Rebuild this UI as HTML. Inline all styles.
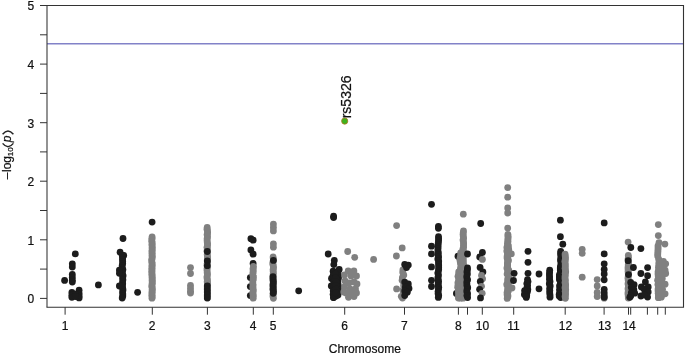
<!DOCTYPE html>
<html><head><meta charset="utf-8"><style>
html,body{margin:0;padding:0;background:#fff}
svg{display:block;will-change:transform}
text{font-family:"Liberation Sans",sans-serif;font-size:12px;fill:#111;stroke:#111;stroke-width:0.22px}
.ax line{stroke:#333;stroke-width:1}
</style></head><body>
<svg width="685" height="355" viewBox="0 0 685 355">
<rect width="685" height="355" fill="#fff"/>
<line x1="47" y1="43.85" x2="683" y2="43.85" stroke="#8282c8" stroke-width="1.5"/>
<g><circle cx="75.3" cy="253.9" r="3.4" fill="#1c1c1c"/><circle cx="72.3" cy="263.8" r="3.4" fill="#1c1c1c"/><circle cx="72.3" cy="267.0" r="3.4" fill="#1c1c1c"/><circle cx="72.3" cy="274.4" r="3.4" fill="#1c1c1c"/><circle cx="72.3" cy="277.5" r="3.4" fill="#1c1c1c"/><circle cx="64.6" cy="280.4" r="3.4" fill="#1c1c1c"/><circle cx="72.3" cy="280.2" r="3.4" fill="#1c1c1c"/><circle cx="72.3" cy="282.0" r="3.4" fill="#1c1c1c"/><circle cx="71.9" cy="292.5" r="3.4" fill="#1c1c1c"/><circle cx="71.9" cy="295.2" r="3.4" fill="#1c1c1c"/><circle cx="71.9" cy="297.3" r="3.4" fill="#1c1c1c"/><circle cx="79.1" cy="290.2" r="3.4" fill="#1c1c1c"/><circle cx="79.1" cy="293.5" r="3.4" fill="#1c1c1c"/><circle cx="79.1" cy="296.0" r="3.4" fill="#1c1c1c"/><circle cx="79.1" cy="297.9" r="3.4" fill="#1c1c1c"/><circle cx="75.5" cy="294.2" r="3.4" fill="#1c1c1c"/><circle cx="75.5" cy="296.5" r="3.4" fill="#1c1c1c"/><circle cx="98.4" cy="284.9" r="3.4" fill="#1c1c1c"/><circle cx="123.0" cy="238.5" r="3.4" fill="#1c1c1c"/><circle cx="120.1" cy="252.2" r="3.4" fill="#1c1c1c"/><circle cx="123.7" cy="255.4" r="3.4" fill="#1c1c1c"/><circle cx="122.3" cy="255.4" r="3.4" fill="#1c1c1c"/><circle cx="122.6" cy="257.4" r="3.4" fill="#1c1c1c"/><circle cx="122.5" cy="259.5" r="3.4" fill="#1c1c1c"/><circle cx="122.7" cy="261.5" r="3.4" fill="#1c1c1c"/><circle cx="122.7" cy="263.5" r="3.4" fill="#1c1c1c"/><circle cx="122.2" cy="265.5" r="3.4" fill="#1c1c1c"/><circle cx="122.1" cy="267.6" r="3.4" fill="#1c1c1c"/><circle cx="122.9" cy="269.6" r="3.4" fill="#1c1c1c"/><circle cx="122.4" cy="271.6" r="3.4" fill="#1c1c1c"/><circle cx="122.3" cy="273.7" r="3.4" fill="#1c1c1c"/><circle cx="123.1" cy="275.7" r="3.4" fill="#1c1c1c"/><circle cx="122.6" cy="277.7" r="3.4" fill="#1c1c1c"/><circle cx="122.9" cy="279.7" r="3.4" fill="#1c1c1c"/><circle cx="122.6" cy="281.8" r="3.4" fill="#1c1c1c"/><circle cx="122.7" cy="283.8" r="3.4" fill="#1c1c1c"/><circle cx="122.3" cy="285.8" r="3.4" fill="#1c1c1c"/><circle cx="122.7" cy="287.9" r="3.4" fill="#1c1c1c"/><circle cx="123.0" cy="289.9" r="3.4" fill="#1c1c1c"/><circle cx="122.6" cy="291.9" r="3.4" fill="#1c1c1c"/><circle cx="122.8" cy="293.9" r="3.4" fill="#1c1c1c"/><circle cx="122.8" cy="296.0" r="3.4" fill="#1c1c1c"/><circle cx="122.2" cy="298.0" r="3.4" fill="#1c1c1c"/><circle cx="119.4" cy="270.1" r="3.4" fill="#1c1c1c"/><circle cx="119.4" cy="273.3" r="3.4" fill="#1c1c1c"/><circle cx="119.4" cy="286.0" r="3.4" fill="#1c1c1c"/><circle cx="137.6" cy="292.3" r="3.4" fill="#1c1c1c"/><circle cx="152.1" cy="236.8" r="3.4" fill="#808080"/><circle cx="152.0" cy="238.3" r="3.4" fill="#808080"/><circle cx="151.9" cy="239.8" r="3.4" fill="#808080"/><circle cx="151.8" cy="241.3" r="3.4" fill="#808080"/><circle cx="152.2" cy="242.8" r="3.4" fill="#808080"/><circle cx="152.0" cy="244.3" r="3.4" fill="#808080"/><circle cx="152.1" cy="245.8" r="3.4" fill="#808080"/><circle cx="152.2" cy="247.3" r="3.4" fill="#808080"/><circle cx="152.1" cy="248.8" r="3.4" fill="#808080"/><circle cx="152.2" cy="250.3" r="3.4" fill="#808080"/><circle cx="151.9" cy="251.8" r="3.4" fill="#808080"/><circle cx="152.2" cy="253.3" r="3.4" fill="#808080"/><circle cx="152.0" cy="254.8" r="3.4" fill="#808080"/><circle cx="152.2" cy="256.3" r="3.4" fill="#808080"/><circle cx="152.2" cy="257.8" r="3.4" fill="#808080"/><circle cx="151.8" cy="259.3" r="3.4" fill="#808080"/><circle cx="151.8" cy="260.8" r="3.4" fill="#808080"/><circle cx="151.9" cy="262.3" r="3.4" fill="#808080"/><circle cx="152.2" cy="263.8" r="3.4" fill="#808080"/><circle cx="152.0" cy="265.3" r="3.4" fill="#808080"/><circle cx="152.1" cy="266.8" r="3.4" fill="#808080"/><circle cx="151.9" cy="268.2" r="3.4" fill="#808080"/><circle cx="152.0" cy="269.7" r="3.4" fill="#808080"/><circle cx="151.9" cy="271.2" r="3.4" fill="#808080"/><circle cx="151.9" cy="272.7" r="3.4" fill="#808080"/><circle cx="152.0" cy="274.2" r="3.4" fill="#808080"/><circle cx="152.0" cy="275.7" r="3.4" fill="#808080"/><circle cx="152.2" cy="277.2" r="3.4" fill="#808080"/><circle cx="152.1" cy="278.7" r="3.4" fill="#808080"/><circle cx="152.2" cy="280.2" r="3.4" fill="#808080"/><circle cx="152.2" cy="281.7" r="3.4" fill="#808080"/><circle cx="152.2" cy="283.2" r="3.4" fill="#808080"/><circle cx="152.1" cy="284.7" r="3.4" fill="#808080"/><circle cx="151.8" cy="286.2" r="3.4" fill="#808080"/><circle cx="152.2" cy="287.7" r="3.4" fill="#808080"/><circle cx="152.2" cy="289.2" r="3.4" fill="#808080"/><circle cx="152.2" cy="290.7" r="3.4" fill="#808080"/><circle cx="152.0" cy="292.2" r="3.4" fill="#808080"/><circle cx="152.1" cy="293.7" r="3.4" fill="#808080"/><circle cx="151.9" cy="295.2" r="3.4" fill="#808080"/><circle cx="152.2" cy="296.7" r="3.4" fill="#808080"/><circle cx="152.0" cy="298.2" r="3.4" fill="#808080"/><circle cx="152.1" cy="222.1" r="3.4" fill="#1c1c1c"/><circle cx="190.5" cy="267.6" r="3.4" fill="#808080"/><circle cx="190.5" cy="273.5" r="3.4" fill="#808080"/><circle cx="190.5" cy="285.4" r="3.4" fill="#808080"/><circle cx="190.5" cy="288.5" r="3.4" fill="#808080"/><circle cx="190.5" cy="291.3" r="3.4" fill="#808080"/><circle cx="190.5" cy="293.0" r="3.4" fill="#808080"/><circle cx="207.2" cy="227.4" r="3.4" fill="#808080"/><circle cx="207.0" cy="229.2" r="3.4" fill="#808080"/><circle cx="207.5" cy="231.0" r="3.4" fill="#808080"/><circle cx="207.6" cy="232.8" r="3.4" fill="#808080"/><circle cx="207.1" cy="234.6" r="3.4" fill="#808080"/><circle cx="207.5" cy="236.5" r="3.4" fill="#808080"/><circle cx="207.2" cy="238.3" r="3.4" fill="#808080"/><circle cx="207.1" cy="240.1" r="3.4" fill="#808080"/><circle cx="207.2" cy="241.9" r="3.4" fill="#808080"/><circle cx="207.5" cy="243.7" r="3.4" fill="#808080"/><circle cx="207.5" cy="245.5" r="3.4" fill="#808080"/><circle cx="207.0" cy="247.3" r="3.4" fill="#808080"/><circle cx="207.4" cy="249.1" r="3.4" fill="#808080"/><circle cx="207.0" cy="250.9" r="3.4" fill="#808080"/><circle cx="207.4" cy="252.7" r="3.4" fill="#808080"/><circle cx="207.2" cy="254.6" r="3.4" fill="#808080"/><circle cx="207.5" cy="256.4" r="3.4" fill="#808080"/><circle cx="207.6" cy="258.2" r="3.4" fill="#808080"/><circle cx="207.3" cy="260.0" r="3.4" fill="#808080"/><circle cx="207.6" cy="261.8" r="3.4" fill="#808080"/><circle cx="207.2" cy="263.6" r="3.4" fill="#808080"/><circle cx="207.0" cy="265.4" r="3.4" fill="#808080"/><circle cx="207.4" cy="267.2" r="3.4" fill="#808080"/><circle cx="207.0" cy="269.0" r="3.4" fill="#808080"/><circle cx="207.1" cy="270.8" r="3.4" fill="#808080"/><circle cx="207.2" cy="272.7" r="3.4" fill="#808080"/><circle cx="207.4" cy="274.5" r="3.4" fill="#808080"/><circle cx="207.1" cy="276.3" r="3.4" fill="#808080"/><circle cx="207.0" cy="278.1" r="3.4" fill="#808080"/><circle cx="207.5" cy="279.9" r="3.4" fill="#808080"/><circle cx="207.2" cy="281.7" r="3.4" fill="#808080"/><circle cx="207.6" cy="283.5" r="3.4" fill="#808080"/><circle cx="207.5" cy="285.3" r="3.4" fill="#808080"/><circle cx="207.2" cy="287.1" r="3.4" fill="#808080"/><circle cx="207.3" cy="288.9" r="3.4" fill="#808080"/><circle cx="207.3" cy="290.8" r="3.4" fill="#808080"/><circle cx="207.4" cy="292.6" r="3.4" fill="#808080"/><circle cx="207.4" cy="294.4" r="3.4" fill="#808080"/><circle cx="207.3" cy="296.2" r="3.4" fill="#808080"/><circle cx="207.4" cy="298.0" r="3.4" fill="#808080"/><circle cx="207.3" cy="251.5" r="3.4" fill="#1c1c1c"/><circle cx="207.3" cy="260.9" r="3.4" fill="#1c1c1c"/><circle cx="207.3" cy="265.7" r="3.4" fill="#1c1c1c"/><circle cx="207.3" cy="285.8" r="3.4" fill="#1c1c1c"/><circle cx="207.3" cy="289.0" r="3.4" fill="#1c1c1c"/><circle cx="207.3" cy="292.0" r="3.4" fill="#1c1c1c"/><circle cx="207.3" cy="295.0" r="3.4" fill="#1c1c1c"/><circle cx="207.3" cy="297.9" r="3.4" fill="#1c1c1c"/><circle cx="250.3" cy="277.6" r="3.4" fill="#1c1c1c"/><circle cx="250.3" cy="286.6" r="3.4" fill="#1c1c1c"/><circle cx="250.3" cy="295.6" r="3.4" fill="#1c1c1c"/><circle cx="250.9" cy="238.7" r="3.4" fill="#1c1c1c"/><circle cx="253.1" cy="240.2" r="3.4" fill="#1c1c1c"/><circle cx="250.9" cy="250.0" r="3.4" fill="#1c1c1c"/><circle cx="253.1" cy="254.2" r="3.4" fill="#1c1c1c"/><circle cx="253.1" cy="263.5" r="3.4" fill="#1c1c1c"/><circle cx="253.4" cy="266.5" r="3.4" fill="#808080"/><circle cx="253.1" cy="268.3" r="3.4" fill="#808080"/><circle cx="253.1" cy="270.0" r="3.4" fill="#808080"/><circle cx="253.2" cy="271.8" r="3.4" fill="#808080"/><circle cx="252.9" cy="273.5" r="3.4" fill="#808080"/><circle cx="253.0" cy="275.3" r="3.4" fill="#808080"/><circle cx="253.4" cy="277.1" r="3.4" fill="#808080"/><circle cx="253.1" cy="278.8" r="3.4" fill="#808080"/><circle cx="253.1" cy="280.6" r="3.4" fill="#808080"/><circle cx="252.8" cy="282.4" r="3.4" fill="#808080"/><circle cx="253.0" cy="284.1" r="3.4" fill="#808080"/><circle cx="253.1" cy="285.9" r="3.4" fill="#808080"/><circle cx="252.8" cy="287.6" r="3.4" fill="#808080"/><circle cx="253.2" cy="289.4" r="3.4" fill="#808080"/><circle cx="253.2" cy="291.2" r="3.4" fill="#808080"/><circle cx="252.8" cy="292.9" r="3.4" fill="#808080"/><circle cx="253.2" cy="294.7" r="3.4" fill="#808080"/><circle cx="253.1" cy="296.4" r="3.4" fill="#808080"/><circle cx="253.2" cy="298.2" r="3.4" fill="#808080"/><circle cx="273.4" cy="224.1" r="3.4" fill="#808080"/><circle cx="273.4" cy="227.5" r="3.4" fill="#808080"/><circle cx="273.4" cy="230.9" r="3.4" fill="#808080"/><circle cx="273.4" cy="243.8" r="3.4" fill="#808080"/><circle cx="273.4" cy="247.2" r="3.4" fill="#808080"/><circle cx="273.1" cy="257.0" r="3.4" fill="#808080"/><circle cx="273.3" cy="258.8" r="3.4" fill="#808080"/><circle cx="273.3" cy="260.6" r="3.4" fill="#808080"/><circle cx="272.9" cy="262.4" r="3.4" fill="#808080"/><circle cx="272.9" cy="264.2" r="3.4" fill="#808080"/><circle cx="273.3" cy="266.0" r="3.4" fill="#808080"/><circle cx="273.5" cy="267.8" r="3.4" fill="#808080"/><circle cx="273.1" cy="269.6" r="3.4" fill="#808080"/><circle cx="273.2" cy="271.4" r="3.4" fill="#808080"/><circle cx="273.3" cy="273.2" r="3.4" fill="#808080"/><circle cx="273.1" cy="275.0" r="3.4" fill="#808080"/><circle cx="273.1" cy="276.8" r="3.4" fill="#808080"/><circle cx="273.1" cy="278.5" r="3.4" fill="#808080"/><circle cx="273.1" cy="280.3" r="3.4" fill="#808080"/><circle cx="273.3" cy="282.1" r="3.4" fill="#808080"/><circle cx="273.1" cy="283.9" r="3.4" fill="#808080"/><circle cx="273.1" cy="285.7" r="3.4" fill="#808080"/><circle cx="273.4" cy="287.5" r="3.4" fill="#808080"/><circle cx="272.9" cy="289.3" r="3.4" fill="#808080"/><circle cx="273.2" cy="291.1" r="3.4" fill="#808080"/><circle cx="273.3" cy="292.9" r="3.4" fill="#808080"/><circle cx="273.1" cy="294.7" r="3.4" fill="#808080"/><circle cx="273.0" cy="296.5" r="3.4" fill="#808080"/><circle cx="273.4" cy="298.3" r="3.4" fill="#808080"/><circle cx="273.4" cy="260.4" r="3.4" fill="#1c1c1c"/><circle cx="273.0" cy="276.6" r="3.4" fill="#1c1c1c"/><circle cx="273.0" cy="278.7" r="3.4" fill="#1c1c1c"/><circle cx="273.2" cy="280.8" r="3.4" fill="#1c1c1c"/><circle cx="273.3" cy="282.9" r="3.4" fill="#1c1c1c"/><circle cx="273.0" cy="285.0" r="3.4" fill="#1c1c1c"/><circle cx="273.1" cy="287.0" r="3.4" fill="#1c1c1c"/><circle cx="273.1" cy="289.1" r="3.4" fill="#1c1c1c"/><circle cx="273.4" cy="291.2" r="3.4" fill="#1c1c1c"/><circle cx="273.2" cy="293.3" r="3.4" fill="#1c1c1c"/><circle cx="298.7" cy="290.8" r="3.4" fill="#1c1c1c"/><circle cx="333.6" cy="216.2" r="3.4" fill="#1c1c1c"/><circle cx="333.6" cy="217.6" r="3.4" fill="#1c1c1c"/><circle cx="328.2" cy="254.0" r="3.4" fill="#1c1c1c"/><circle cx="334.3" cy="260.5" r="3.4" fill="#1c1c1c"/><circle cx="333.8" cy="264.6" r="3.4" fill="#1c1c1c"/><circle cx="339.2" cy="269.5" r="3.4" fill="#1c1c1c"/><circle cx="333.1" cy="271.2" r="3.4" fill="#1c1c1c"/><circle cx="331.3" cy="286.0" r="3.4" fill="#1c1c1c"/><circle cx="331.5" cy="278.5" r="3.4" fill="#1c1c1c"/><circle cx="336.0" cy="296.0" r="3.4" fill="#1c1c1c"/><circle cx="333.5" cy="297.6" r="3.4" fill="#1c1c1c"/><circle cx="333.9" cy="272.0" r="3.4" fill="#1c1c1c"/><circle cx="333.2" cy="275.2" r="3.4" fill="#1c1c1c"/><circle cx="333.3" cy="278.4" r="3.4" fill="#1c1c1c"/><circle cx="333.7" cy="281.6" r="3.4" fill="#1c1c1c"/><circle cx="333.9" cy="284.8" r="3.4" fill="#1c1c1c"/><circle cx="333.5" cy="287.9" r="3.4" fill="#1c1c1c"/><circle cx="333.2" cy="291.1" r="3.4" fill="#1c1c1c"/><circle cx="333.1" cy="294.3" r="3.4" fill="#1c1c1c"/><circle cx="333.5" cy="297.5" r="3.4" fill="#1c1c1c"/><circle cx="337.9" cy="272.5" r="3.4" fill="#1c1c1c"/><circle cx="338.5" cy="275.3" r="3.4" fill="#1c1c1c"/><circle cx="338.5" cy="278.1" r="3.4" fill="#1c1c1c"/><circle cx="337.9" cy="280.9" r="3.4" fill="#1c1c1c"/><circle cx="338.0" cy="283.8" r="3.4" fill="#1c1c1c"/><circle cx="338.5" cy="286.6" r="3.4" fill="#1c1c1c"/><circle cx="338.3" cy="289.4" r="3.4" fill="#1c1c1c"/><circle cx="338.5" cy="292.2" r="3.4" fill="#1c1c1c"/><circle cx="338.0" cy="295.0" r="3.4" fill="#1c1c1c"/><circle cx="335.6" cy="274.0" r="3.4" fill="#1c1c1c"/><circle cx="335.8" cy="277.8" r="3.4" fill="#1c1c1c"/><circle cx="336.3" cy="281.6" r="3.4" fill="#1c1c1c"/><circle cx="335.8" cy="285.4" r="3.4" fill="#1c1c1c"/><circle cx="335.8" cy="289.2" r="3.4" fill="#1c1c1c"/><circle cx="335.9" cy="293.0" r="3.4" fill="#1c1c1c"/><circle cx="347.7" cy="251.5" r="3.4" fill="#808080"/><circle cx="354.7" cy="257.3" r="3.4" fill="#808080"/><circle cx="373.6" cy="259.4" r="3.4" fill="#808080"/><circle cx="348.2" cy="270.9" r="3.4" fill="#808080"/><circle cx="353.9" cy="270.9" r="3.4" fill="#808080"/><circle cx="344.5" cy="275.0" r="3.4" fill="#808080"/><circle cx="351.0" cy="276.0" r="3.4" fill="#808080"/><circle cx="356.5" cy="276.0" r="3.4" fill="#808080"/><circle cx="345.0" cy="281.0" r="3.4" fill="#808080"/><circle cx="349.0" cy="283.0" r="3.4" fill="#808080"/><circle cx="354.0" cy="282.0" r="3.4" fill="#808080"/><circle cx="357.0" cy="284.0" r="3.4" fill="#808080"/><circle cx="344.5" cy="287.0" r="3.4" fill="#808080"/><circle cx="350.0" cy="289.0" r="3.4" fill="#808080"/><circle cx="355.5" cy="289.0" r="3.4" fill="#808080"/><circle cx="346.0" cy="293.0" r="3.4" fill="#808080"/><circle cx="352.0" cy="294.0" r="3.4" fill="#808080"/><circle cx="356.5" cy="293.0" r="3.4" fill="#808080"/><circle cx="348.5" cy="297.3" r="3.4" fill="#808080"/><circle cx="354.0" cy="296.5" r="3.4" fill="#808080"/><circle cx="343.8" cy="292.0" r="3.4" fill="#808080"/><circle cx="396.6" cy="225.6" r="3.4" fill="#808080"/><circle cx="402.2" cy="247.9" r="3.4" fill="#808080"/><circle cx="396.4" cy="256.0" r="3.4" fill="#808080"/><circle cx="396.6" cy="288.9" r="3.4" fill="#808080"/><circle cx="402.9" cy="270.0" r="3.4" fill="#808080"/><circle cx="402.8" cy="272.5" r="3.4" fill="#808080"/><circle cx="403.8" cy="275.1" r="3.4" fill="#808080"/><circle cx="402.4" cy="277.6" r="3.4" fill="#808080"/><circle cx="402.1" cy="280.2" r="3.4" fill="#808080"/><circle cx="403.8" cy="282.7" r="3.4" fill="#808080"/><circle cx="403.7" cy="285.3" r="3.4" fill="#808080"/><circle cx="403.9" cy="287.8" r="3.4" fill="#808080"/><circle cx="402.9" cy="290.4" r="3.4" fill="#808080"/><circle cx="403.8" cy="292.9" r="3.4" fill="#808080"/><circle cx="403.8" cy="295.5" r="3.4" fill="#808080"/><circle cx="402.5" cy="298.0" r="3.4" fill="#808080"/><circle cx="401.3" cy="296.3" r="3.4" fill="#808080"/><circle cx="404.7" cy="264.4" r="3.4" fill="#1c1c1c"/><circle cx="408.3" cy="265.1" r="3.4" fill="#1c1c1c"/><circle cx="406.5" cy="267.6" r="3.4" fill="#1c1c1c"/><circle cx="404.7" cy="282.1" r="3.4" fill="#1c1c1c"/><circle cx="408.3" cy="283.9" r="3.4" fill="#1c1c1c"/><circle cx="405.3" cy="287.0" r="3.4" fill="#1c1c1c"/><circle cx="409.0" cy="288.4" r="3.4" fill="#1c1c1c"/><circle cx="404.7" cy="291.0" r="3.4" fill="#1c1c1c"/><circle cx="407.3" cy="292.2" r="3.4" fill="#1c1c1c"/><circle cx="404.7" cy="295.5" r="3.4" fill="#1c1c1c"/><circle cx="431.5" cy="204.3" r="3.4" fill="#1c1c1c"/><circle cx="438.4" cy="226.5" r="3.4" fill="#1c1c1c"/><circle cx="438.4" cy="228.3" r="3.4" fill="#1c1c1c"/><circle cx="438.5" cy="236.7" r="3.4" fill="#1c1c1c"/><circle cx="438.6" cy="238.7" r="3.4" fill="#1c1c1c"/><circle cx="438.5" cy="240.7" r="3.4" fill="#1c1c1c"/><circle cx="438.3" cy="242.8" r="3.4" fill="#1c1c1c"/><circle cx="438.1" cy="244.8" r="3.4" fill="#1c1c1c"/><circle cx="438.1" cy="246.8" r="3.4" fill="#1c1c1c"/><circle cx="438.0" cy="248.8" r="3.4" fill="#1c1c1c"/><circle cx="437.9" cy="250.9" r="3.4" fill="#1c1c1c"/><circle cx="438.4" cy="252.9" r="3.4" fill="#1c1c1c"/><circle cx="438.1" cy="254.9" r="3.4" fill="#1c1c1c"/><circle cx="438.6" cy="256.9" r="3.4" fill="#1c1c1c"/><circle cx="437.8" cy="259.0" r="3.4" fill="#1c1c1c"/><circle cx="438.7" cy="261.0" r="3.4" fill="#1c1c1c"/><circle cx="438.5" cy="263.0" r="3.4" fill="#1c1c1c"/><circle cx="438.7" cy="265.0" r="3.4" fill="#1c1c1c"/><circle cx="438.7" cy="267.0" r="3.4" fill="#1c1c1c"/><circle cx="438.7" cy="269.1" r="3.4" fill="#1c1c1c"/><circle cx="438.4" cy="271.1" r="3.4" fill="#1c1c1c"/><circle cx="437.8" cy="273.1" r="3.4" fill="#1c1c1c"/><circle cx="438.5" cy="275.1" r="3.4" fill="#1c1c1c"/><circle cx="438.0" cy="277.2" r="3.4" fill="#1c1c1c"/><circle cx="438.1" cy="279.2" r="3.4" fill="#1c1c1c"/><circle cx="438.5" cy="281.2" r="3.4" fill="#1c1c1c"/><circle cx="438.3" cy="283.2" r="3.4" fill="#1c1c1c"/><circle cx="438.2" cy="285.3" r="3.4" fill="#1c1c1c"/><circle cx="438.7" cy="287.3" r="3.4" fill="#1c1c1c"/><circle cx="438.4" cy="289.3" r="3.4" fill="#1c1c1c"/><circle cx="438.1" cy="291.3" r="3.4" fill="#1c1c1c"/><circle cx="438.1" cy="293.4" r="3.4" fill="#1c1c1c"/><circle cx="438.7" cy="295.4" r="3.4" fill="#1c1c1c"/><circle cx="438.3" cy="297.4" r="3.4" fill="#1c1c1c"/><circle cx="431.5" cy="246.2" r="3.4" fill="#1c1c1c"/><circle cx="431.5" cy="253.9" r="3.4" fill="#1c1c1c"/><circle cx="431.5" cy="266.9" r="3.4" fill="#1c1c1c"/><circle cx="431.5" cy="280.3" r="3.4" fill="#1c1c1c"/><circle cx="431.5" cy="286.5" r="3.4" fill="#1c1c1c"/><circle cx="458.0" cy="256.2" r="3.4" fill="#1c1c1c"/><circle cx="456.4" cy="293.5" r="3.4" fill="#1c1c1c"/><circle cx="463.3" cy="214.2" r="3.4" fill="#808080"/><circle cx="463.5" cy="231.0" r="3.4" fill="#808080"/><circle cx="463.2" cy="232.8" r="3.4" fill="#808080"/><circle cx="463.1" cy="234.6" r="3.4" fill="#808080"/><circle cx="463.3" cy="236.4" r="3.4" fill="#808080"/><circle cx="463.6" cy="238.3" r="3.4" fill="#808080"/><circle cx="463.0" cy="240.1" r="3.4" fill="#808080"/><circle cx="463.5" cy="241.9" r="3.4" fill="#808080"/><circle cx="463.6" cy="243.7" r="3.4" fill="#808080"/><circle cx="463.5" cy="245.5" r="3.4" fill="#808080"/><circle cx="463.6" cy="247.3" r="3.4" fill="#808080"/><circle cx="462.9" cy="249.2" r="3.4" fill="#808080"/><circle cx="463.4" cy="251.0" r="3.4" fill="#808080"/><circle cx="463.6" cy="252.8" r="3.4" fill="#808080"/><circle cx="462.9" cy="254.6" r="3.4" fill="#808080"/><circle cx="463.1" cy="256.4" r="3.4" fill="#808080"/><circle cx="463.1" cy="258.2" r="3.4" fill="#808080"/><circle cx="463.3" cy="260.1" r="3.4" fill="#808080"/><circle cx="463.2" cy="261.9" r="3.4" fill="#808080"/><circle cx="463.3" cy="263.7" r="3.4" fill="#808080"/><circle cx="463.5" cy="265.5" r="3.4" fill="#808080"/><circle cx="462.9" cy="267.3" r="3.4" fill="#808080"/><circle cx="462.9" cy="269.1" r="3.4" fill="#808080"/><circle cx="463.0" cy="271.0" r="3.4" fill="#808080"/><circle cx="463.0" cy="272.8" r="3.4" fill="#808080"/><circle cx="463.0" cy="274.6" r="3.4" fill="#808080"/><circle cx="463.7" cy="276.4" r="3.4" fill="#808080"/><circle cx="463.6" cy="278.2" r="3.4" fill="#808080"/><circle cx="463.0" cy="280.0" r="3.4" fill="#808080"/><circle cx="463.3" cy="281.9" r="3.4" fill="#808080"/><circle cx="463.2" cy="283.7" r="3.4" fill="#808080"/><circle cx="463.2" cy="285.5" r="3.4" fill="#808080"/><circle cx="463.2" cy="287.3" r="3.4" fill="#808080"/><circle cx="463.4" cy="289.1" r="3.4" fill="#808080"/><circle cx="463.4" cy="290.9" r="3.4" fill="#808080"/><circle cx="463.2" cy="292.8" r="3.4" fill="#808080"/><circle cx="463.1" cy="294.6" r="3.4" fill="#808080"/><circle cx="463.2" cy="296.4" r="3.4" fill="#808080"/><circle cx="463.0" cy="298.2" r="3.4" fill="#808080"/><circle cx="460.7" cy="253.0" r="3.4" fill="#808080"/><circle cx="460.9" cy="255.0" r="3.4" fill="#808080"/><circle cx="460.4" cy="256.9" r="3.4" fill="#808080"/><circle cx="459.9" cy="258.9" r="3.4" fill="#808080"/><circle cx="460.1" cy="260.9" r="3.4" fill="#808080"/><circle cx="460.4" cy="262.8" r="3.4" fill="#808080"/><circle cx="460.8" cy="264.8" r="3.4" fill="#808080"/><circle cx="461.1" cy="266.8" r="3.4" fill="#808080"/><circle cx="460.4" cy="268.7" r="3.4" fill="#808080"/><circle cx="461.1" cy="270.7" r="3.4" fill="#808080"/><circle cx="460.8" cy="272.7" r="3.4" fill="#808080"/><circle cx="460.5" cy="274.6" r="3.4" fill="#808080"/><circle cx="460.4" cy="276.6" r="3.4" fill="#808080"/><circle cx="460.6" cy="278.5" r="3.4" fill="#808080"/><circle cx="460.9" cy="280.5" r="3.4" fill="#808080"/><circle cx="460.5" cy="282.5" r="3.4" fill="#808080"/><circle cx="460.9" cy="284.4" r="3.4" fill="#808080"/><circle cx="460.5" cy="286.4" r="3.4" fill="#808080"/><circle cx="460.2" cy="288.4" r="3.4" fill="#808080"/><circle cx="460.7" cy="290.3" r="3.4" fill="#808080"/><circle cx="460.9" cy="292.3" r="3.4" fill="#808080"/><circle cx="459.9" cy="294.3" r="3.4" fill="#808080"/><circle cx="460.5" cy="296.2" r="3.4" fill="#808080"/><circle cx="460.5" cy="298.2" r="3.4" fill="#808080"/><circle cx="458.7" cy="272.0" r="3.4" fill="#808080"/><circle cx="458.8" cy="274.2" r="3.4" fill="#808080"/><circle cx="458.0" cy="276.3" r="3.4" fill="#808080"/><circle cx="458.8" cy="278.5" r="3.4" fill="#808080"/><circle cx="458.6" cy="280.7" r="3.4" fill="#808080"/><circle cx="457.9" cy="282.8" r="3.4" fill="#808080"/><circle cx="458.1" cy="285.0" r="3.4" fill="#808080"/><circle cx="457.7" cy="287.2" r="3.4" fill="#808080"/><circle cx="458.6" cy="289.3" r="3.4" fill="#808080"/><circle cx="458.4" cy="291.5" r="3.4" fill="#808080"/><circle cx="458.7" cy="293.7" r="3.4" fill="#808080"/><circle cx="458.6" cy="295.8" r="3.4" fill="#808080"/><circle cx="458.4" cy="298.0" r="3.4" fill="#808080"/><circle cx="467.5" cy="254.0" r="3.4" fill="#1c1c1c"/><circle cx="467.5" cy="268.0" r="3.4" fill="#1c1c1c"/><circle cx="467.4" cy="270.0" r="3.4" fill="#1c1c1c"/><circle cx="466.9" cy="271.9" r="3.4" fill="#1c1c1c"/><circle cx="467.4" cy="273.9" r="3.4" fill="#1c1c1c"/><circle cx="466.8" cy="275.9" r="3.4" fill="#1c1c1c"/><circle cx="466.9" cy="277.9" r="3.4" fill="#1c1c1c"/><circle cx="467.6" cy="279.8" r="3.4" fill="#1c1c1c"/><circle cx="466.8" cy="281.8" r="3.4" fill="#1c1c1c"/><circle cx="466.9" cy="283.8" r="3.4" fill="#1c1c1c"/><circle cx="466.9" cy="285.8" r="3.4" fill="#1c1c1c"/><circle cx="467.7" cy="287.7" r="3.4" fill="#1c1c1c"/><circle cx="467.0" cy="289.7" r="3.4" fill="#1c1c1c"/><circle cx="466.8" cy="291.7" r="3.4" fill="#1c1c1c"/><circle cx="467.6" cy="293.7" r="3.4" fill="#1c1c1c"/><circle cx="466.9" cy="295.6" r="3.4" fill="#1c1c1c"/><circle cx="467.6" cy="297.6" r="3.4" fill="#1c1c1c"/><circle cx="480.7" cy="223.5" r="3.4" fill="#1c1c1c"/><circle cx="482.4" cy="252.5" r="3.4" fill="#1c1c1c"/><circle cx="479.7" cy="257.0" r="3.4" fill="#1c1c1c"/><circle cx="482.4" cy="259.4" r="3.4" fill="#808080"/><circle cx="480.1" cy="267.4" r="3.4" fill="#1c1c1c"/><circle cx="482.9" cy="271.9" r="3.4" fill="#1c1c1c"/><circle cx="481.5" cy="275.4" r="3.4" fill="#808080"/><circle cx="482.6" cy="278.8" r="3.4" fill="#808080"/><circle cx="480.3" cy="281.5" r="3.4" fill="#1c1c1c"/><circle cx="481.5" cy="286.3" r="3.4" fill="#808080"/><circle cx="479.6" cy="289.3" r="3.4" fill="#1c1c1c"/><circle cx="482.2" cy="293.3" r="3.4" fill="#808080"/><circle cx="480.5" cy="297.9" r="3.4" fill="#1c1c1c"/><circle cx="507.7" cy="187.6" r="3.4" fill="#808080"/><circle cx="507.7" cy="197.2" r="3.4" fill="#808080"/><circle cx="507.7" cy="207.9" r="3.4" fill="#808080"/><circle cx="507.7" cy="213.0" r="3.4" fill="#808080"/><circle cx="507.7" cy="228.1" r="3.4" fill="#808080"/><circle cx="507.9" cy="234.5" r="3.4" fill="#808080"/><circle cx="508.0" cy="236.2" r="3.4" fill="#808080"/><circle cx="508.1" cy="238.0" r="3.4" fill="#808080"/><circle cx="507.8" cy="239.8" r="3.4" fill="#808080"/><circle cx="508.0" cy="241.5" r="3.4" fill="#808080"/><circle cx="507.5" cy="243.2" r="3.4" fill="#808080"/><circle cx="508.0" cy="245.0" r="3.4" fill="#808080"/><circle cx="507.8" cy="245.0" r="3.4" fill="#808080"/><circle cx="508.3" cy="246.2" r="3.4" fill="#808080"/><circle cx="506.9" cy="247.4" r="3.4" fill="#808080"/><circle cx="508.3" cy="248.6" r="3.4" fill="#808080"/><circle cx="508.8" cy="249.9" r="3.4" fill="#808080"/><circle cx="506.8" cy="251.1" r="3.4" fill="#808080"/><circle cx="507.4" cy="252.3" r="3.4" fill="#808080"/><circle cx="507.9" cy="253.5" r="3.4" fill="#808080"/><circle cx="508.5" cy="254.7" r="3.4" fill="#808080"/><circle cx="507.2" cy="255.9" r="3.4" fill="#808080"/><circle cx="507.1" cy="257.1" r="3.4" fill="#808080"/><circle cx="507.2" cy="258.4" r="3.4" fill="#808080"/><circle cx="508.1" cy="259.6" r="3.4" fill="#808080"/><circle cx="508.4" cy="260.8" r="3.4" fill="#808080"/><circle cx="507.6" cy="262.0" r="3.4" fill="#808080"/><circle cx="507.5" cy="263.2" r="3.4" fill="#808080"/><circle cx="507.6" cy="264.4" r="3.4" fill="#808080"/><circle cx="507.5" cy="265.6" r="3.4" fill="#808080"/><circle cx="507.6" cy="266.8" r="3.4" fill="#808080"/><circle cx="506.9" cy="268.1" r="3.4" fill="#808080"/><circle cx="507.8" cy="269.3" r="3.4" fill="#808080"/><circle cx="508.8" cy="270.5" r="3.4" fill="#808080"/><circle cx="507.6" cy="271.7" r="3.4" fill="#808080"/><circle cx="508.3" cy="272.9" r="3.4" fill="#808080"/><circle cx="507.1" cy="274.1" r="3.4" fill="#808080"/><circle cx="508.2" cy="275.3" r="3.4" fill="#808080"/><circle cx="508.4" cy="276.6" r="3.4" fill="#808080"/><circle cx="508.2" cy="277.8" r="3.4" fill="#808080"/><circle cx="507.8" cy="279.0" r="3.4" fill="#808080"/><circle cx="507.8" cy="280.2" r="3.4" fill="#808080"/><circle cx="508.1" cy="281.4" r="3.4" fill="#808080"/><circle cx="508.7" cy="282.6" r="3.4" fill="#808080"/><circle cx="507.0" cy="283.8" r="3.4" fill="#808080"/><circle cx="506.9" cy="285.0" r="3.4" fill="#808080"/><circle cx="508.3" cy="286.3" r="3.4" fill="#808080"/><circle cx="508.7" cy="287.5" r="3.4" fill="#808080"/><circle cx="507.8" cy="288.7" r="3.4" fill="#808080"/><circle cx="507.7" cy="289.9" r="3.4" fill="#808080"/><circle cx="508.3" cy="291.1" r="3.4" fill="#808080"/><circle cx="507.1" cy="292.3" r="3.4" fill="#808080"/><circle cx="507.3" cy="293.5" r="3.4" fill="#808080"/><circle cx="507.1" cy="294.8" r="3.4" fill="#808080"/><circle cx="508.0" cy="296.0" r="3.4" fill="#808080"/><circle cx="507.4" cy="297.2" r="3.4" fill="#808080"/><circle cx="507.2" cy="298.4" r="3.4" fill="#808080"/><circle cx="511.3" cy="253.9" r="3.4" fill="#808080"/><circle cx="512.0" cy="288.0" r="3.4" fill="#808080"/><circle cx="514.1" cy="273.3" r="3.4" fill="#1c1c1c"/><circle cx="513.5" cy="280.5" r="3.4" fill="#1c1c1c"/><circle cx="528.0" cy="251.3" r="3.4" fill="#1c1c1c"/><circle cx="528.0" cy="262.3" r="3.4" fill="#1c1c1c"/><circle cx="528.0" cy="273.3" r="3.4" fill="#1c1c1c"/><circle cx="527.5" cy="279.6" r="3.4" fill="#1c1c1c"/><circle cx="528.0" cy="281.6" r="3.4" fill="#1c1c1c"/><circle cx="526.8" cy="283.6" r="3.4" fill="#1c1c1c"/><circle cx="527.6" cy="285.5" r="3.4" fill="#1c1c1c"/><circle cx="527.0" cy="287.5" r="3.4" fill="#1c1c1c"/><circle cx="527.8" cy="289.5" r="3.4" fill="#1c1c1c"/><circle cx="527.4" cy="291.5" r="3.4" fill="#1c1c1c"/><circle cx="526.8" cy="293.4" r="3.4" fill="#1c1c1c"/><circle cx="526.7" cy="295.4" r="3.4" fill="#1c1c1c"/><circle cx="526.3" cy="297.4" r="3.4" fill="#1c1c1c"/><circle cx="524.6" cy="290.6" r="3.4" fill="#1c1c1c"/><circle cx="524.4" cy="294.5" r="3.4" fill="#1c1c1c"/><circle cx="526.0" cy="296.5" r="3.4" fill="#1c1c1c"/><circle cx="539.0" cy="274.0" r="3.4" fill="#1c1c1c"/><circle cx="539.0" cy="288.8" r="3.4" fill="#1c1c1c"/><circle cx="549.7" cy="270.2" r="3.4" fill="#1c1c1c"/><circle cx="549.6" cy="272.4" r="3.4" fill="#1c1c1c"/><circle cx="549.4" cy="274.7" r="3.4" fill="#1c1c1c"/><circle cx="549.6" cy="276.9" r="3.4" fill="#1c1c1c"/><circle cx="549.5" cy="279.2" r="3.4" fill="#1c1c1c"/><circle cx="550.0" cy="281.4" r="3.4" fill="#1c1c1c"/><circle cx="549.3" cy="283.7" r="3.4" fill="#1c1c1c"/><circle cx="550.2" cy="285.9" r="3.4" fill="#1c1c1c"/><circle cx="549.7" cy="288.2" r="3.4" fill="#1c1c1c"/><circle cx="549.8" cy="290.4" r="3.4" fill="#1c1c1c"/><circle cx="549.7" cy="292.7" r="3.4" fill="#1c1c1c"/><circle cx="550.0" cy="294.9" r="3.4" fill="#1c1c1c"/><circle cx="550.0" cy="297.2" r="3.4" fill="#1c1c1c"/><circle cx="560.4" cy="220.2" r="3.4" fill="#1c1c1c"/><circle cx="560.4" cy="236.7" r="3.4" fill="#1c1c1c"/><circle cx="562.8" cy="244.2" r="3.4" fill="#1c1c1c"/><circle cx="560.7" cy="251.4" r="3.4" fill="#1c1c1c"/><circle cx="560.6" cy="253.5" r="3.4" fill="#1c1c1c"/><circle cx="560.8" cy="255.5" r="3.4" fill="#1c1c1c"/><circle cx="561.0" cy="257.6" r="3.4" fill="#1c1c1c"/><circle cx="560.5" cy="259.7" r="3.4" fill="#1c1c1c"/><circle cx="560.8" cy="261.7" r="3.4" fill="#1c1c1c"/><circle cx="561.1" cy="263.8" r="3.4" fill="#1c1c1c"/><circle cx="560.6" cy="265.9" r="3.4" fill="#1c1c1c"/><circle cx="560.3" cy="267.9" r="3.4" fill="#1c1c1c"/><circle cx="560.3" cy="270.0" r="3.4" fill="#1c1c1c"/><circle cx="560.4" cy="268.0" r="3.4" fill="#1c1c1c"/><circle cx="560.4" cy="269.6" r="3.4" fill="#1c1c1c"/><circle cx="560.9" cy="271.3" r="3.4" fill="#1c1c1c"/><circle cx="560.7" cy="272.9" r="3.4" fill="#1c1c1c"/><circle cx="559.5" cy="274.6" r="3.4" fill="#1c1c1c"/><circle cx="559.4" cy="276.2" r="3.4" fill="#1c1c1c"/><circle cx="559.5" cy="277.8" r="3.4" fill="#1c1c1c"/><circle cx="559.4" cy="279.5" r="3.4" fill="#1c1c1c"/><circle cx="560.4" cy="281.1" r="3.4" fill="#1c1c1c"/><circle cx="560.7" cy="282.8" r="3.4" fill="#1c1c1c"/><circle cx="560.8" cy="284.4" r="3.4" fill="#1c1c1c"/><circle cx="559.5" cy="286.0" r="3.4" fill="#1c1c1c"/><circle cx="560.7" cy="287.7" r="3.4" fill="#1c1c1c"/><circle cx="559.6" cy="289.3" r="3.4" fill="#1c1c1c"/><circle cx="559.8" cy="290.9" r="3.4" fill="#1c1c1c"/><circle cx="560.5" cy="292.6" r="3.4" fill="#1c1c1c"/><circle cx="559.2" cy="294.2" r="3.4" fill="#1c1c1c"/><circle cx="559.2" cy="295.9" r="3.4" fill="#1c1c1c"/><circle cx="560.7" cy="297.5" r="3.4" fill="#1c1c1c"/><circle cx="565.1" cy="254.1" r="3.4" fill="#808080"/><circle cx="565.2" cy="255.9" r="3.4" fill="#808080"/><circle cx="565.4" cy="257.6" r="3.4" fill="#808080"/><circle cx="565.4" cy="259.4" r="3.4" fill="#808080"/><circle cx="564.9" cy="261.2" r="3.4" fill="#808080"/><circle cx="565.2" cy="262.9" r="3.4" fill="#808080"/><circle cx="565.2" cy="264.7" r="3.4" fill="#808080"/><circle cx="565.3" cy="266.5" r="3.4" fill="#808080"/><circle cx="565.1" cy="268.2" r="3.4" fill="#808080"/><circle cx="565.4" cy="270.0" r="3.4" fill="#808080"/><circle cx="565.7" cy="271.8" r="3.4" fill="#808080"/><circle cx="565.2" cy="273.5" r="3.4" fill="#808080"/><circle cx="565.3" cy="275.3" r="3.4" fill="#808080"/><circle cx="565.0" cy="277.1" r="3.4" fill="#808080"/><circle cx="565.1" cy="278.9" r="3.4" fill="#808080"/><circle cx="565.4" cy="280.6" r="3.4" fill="#808080"/><circle cx="565.0" cy="282.4" r="3.4" fill="#808080"/><circle cx="565.6" cy="284.2" r="3.4" fill="#808080"/><circle cx="565.6" cy="285.9" r="3.4" fill="#808080"/><circle cx="565.0" cy="287.7" r="3.4" fill="#808080"/><circle cx="565.7" cy="289.5" r="3.4" fill="#808080"/><circle cx="565.2" cy="291.2" r="3.4" fill="#808080"/><circle cx="565.5" cy="293.0" r="3.4" fill="#808080"/><circle cx="565.5" cy="294.8" r="3.4" fill="#808080"/><circle cx="565.1" cy="296.5" r="3.4" fill="#808080"/><circle cx="565.4" cy="298.3" r="3.4" fill="#808080"/><circle cx="582.2" cy="249.3" r="3.4" fill="#808080"/><circle cx="582.2" cy="253.3" r="3.4" fill="#808080"/><circle cx="582.2" cy="277.2" r="3.4" fill="#808080"/><circle cx="597.2" cy="279.6" r="3.4" fill="#808080"/><circle cx="597.2" cy="286.0" r="3.4" fill="#808080"/><circle cx="597.2" cy="292.5" r="3.4" fill="#808080"/><circle cx="597.2" cy="296.5" r="3.4" fill="#808080"/><circle cx="604.2" cy="298.2" r="3.4" fill="#808080"/><circle cx="604.2" cy="222.9" r="3.4" fill="#1c1c1c"/><circle cx="604.2" cy="253.9" r="3.4" fill="#1c1c1c"/><circle cx="604.2" cy="263.8" r="3.4" fill="#1c1c1c"/><circle cx="604.2" cy="269.4" r="3.4" fill="#1c1c1c"/><circle cx="604.2" cy="274.0" r="3.4" fill="#1c1c1c"/><circle cx="604.2" cy="279.8" r="3.4" fill="#1c1c1c"/><circle cx="604.2" cy="289.3" r="3.4" fill="#1c1c1c"/><circle cx="604.2" cy="292.7" r="3.4" fill="#1c1c1c"/><circle cx="604.2" cy="295.5" r="3.4" fill="#1c1c1c"/><circle cx="604.2" cy="297.3" r="3.4" fill="#1c1c1c"/><circle cx="628.1" cy="242.1" r="3.4" fill="#808080"/><circle cx="628.3" cy="255.5" r="3.4" fill="#808080"/><circle cx="628.4" cy="257.3" r="3.4" fill="#808080"/><circle cx="628.1" cy="259.0" r="3.4" fill="#808080"/><circle cx="628.4" cy="260.8" r="3.4" fill="#808080"/><circle cx="628.5" cy="262.6" r="3.4" fill="#808080"/><circle cx="628.3" cy="264.4" r="3.4" fill="#808080"/><circle cx="628.2" cy="266.1" r="3.4" fill="#808080"/><circle cx="628.0" cy="267.9" r="3.4" fill="#808080"/><circle cx="628.2" cy="269.7" r="3.4" fill="#808080"/><circle cx="628.1" cy="271.4" r="3.4" fill="#808080"/><circle cx="628.3" cy="273.2" r="3.4" fill="#808080"/><circle cx="628.3" cy="275.0" r="3.4" fill="#808080"/><circle cx="628.2" cy="276.8" r="3.4" fill="#808080"/><circle cx="628.0" cy="278.5" r="3.4" fill="#808080"/><circle cx="628.3" cy="280.3" r="3.4" fill="#808080"/><circle cx="628.3" cy="282.1" r="3.4" fill="#808080"/><circle cx="628.0" cy="283.8" r="3.4" fill="#808080"/><circle cx="628.4" cy="285.6" r="3.4" fill="#808080"/><circle cx="628.3" cy="287.4" r="3.4" fill="#808080"/><circle cx="628.0" cy="289.1" r="3.4" fill="#808080"/><circle cx="628.5" cy="290.9" r="3.4" fill="#808080"/><circle cx="628.0" cy="292.7" r="3.4" fill="#808080"/><circle cx="628.1" cy="294.5" r="3.4" fill="#808080"/><circle cx="628.3" cy="296.2" r="3.4" fill="#808080"/><circle cx="628.3" cy="298.0" r="3.4" fill="#808080"/><circle cx="630.8" cy="247.5" r="3.4" fill="#1c1c1c"/><circle cx="640.9" cy="248.6" r="3.4" fill="#1c1c1c"/><circle cx="628.1" cy="260.7" r="3.4" fill="#1c1c1c"/><circle cx="633.4" cy="267.5" r="3.4" fill="#1c1c1c"/><circle cx="647.6" cy="267.6" r="3.4" fill="#1c1c1c"/><circle cx="628.5" cy="274.6" r="3.4" fill="#1c1c1c"/><circle cx="640.9" cy="273.5" r="3.4" fill="#1c1c1c"/><circle cx="647.6" cy="275.7" r="3.4" fill="#1c1c1c"/><circle cx="630.7" cy="282.5" r="3.4" fill="#1c1c1c"/><circle cx="634.1" cy="284.7" r="3.4" fill="#1c1c1c"/><circle cx="645.4" cy="281.9" r="3.4" fill="#1c1c1c"/><circle cx="648.2" cy="287.0" r="3.4" fill="#1c1c1c"/><circle cx="641.4" cy="287.0" r="3.4" fill="#1c1c1c"/><circle cx="631.3" cy="287.5" r="3.4" fill="#1c1c1c"/><circle cx="633.8" cy="289.5" r="3.4" fill="#1c1c1c"/><circle cx="644.2" cy="289.2" r="3.4" fill="#1c1c1c"/><circle cx="631.3" cy="292.6" r="3.4" fill="#1c1c1c"/><circle cx="634.7" cy="293.2" r="3.4" fill="#1c1c1c"/><circle cx="648.2" cy="292.0" r="3.4" fill="#1c1c1c"/><circle cx="640.9" cy="296.0" r="3.4" fill="#1c1c1c"/><circle cx="647.6" cy="297.1" r="3.4" fill="#1c1c1c"/><circle cx="644.2" cy="294.9" r="3.4" fill="#1c1c1c"/><circle cx="630.7" cy="296.0" r="3.4" fill="#1c1c1c"/><circle cx="629.8" cy="297.3" r="3.4" fill="#1c1c1c"/><circle cx="658.3" cy="224.6" r="3.4" fill="#808080"/><circle cx="658.3" cy="235.6" r="3.4" fill="#808080"/><circle cx="659.0" cy="242.6" r="3.4" fill="#808080"/><circle cx="664.9" cy="244.1" r="3.4" fill="#808080"/><circle cx="658.7" cy="259.2" r="3.4" fill="#808080"/><circle cx="663.4" cy="261.5" r="3.4" fill="#808080"/><circle cx="665.7" cy="263.8" r="3.4" fill="#808080"/><circle cx="660.9" cy="268.3" r="3.4" fill="#808080"/><circle cx="665.1" cy="270.1" r="3.4" fill="#808080"/><circle cx="665.7" cy="273.5" r="3.4" fill="#808080"/><circle cx="662.3" cy="278.5" r="3.4" fill="#808080"/><circle cx="665.1" cy="284.2" r="3.4" fill="#808080"/><circle cx="662.5" cy="289.2" r="3.4" fill="#808080"/><circle cx="665.1" cy="293.8" r="3.4" fill="#808080"/><circle cx="661.3" cy="297.2" r="3.4" fill="#808080"/><circle cx="658.3" cy="297.7" r="3.4" fill="#808080"/><circle cx="658.0" cy="246.0" r="3.4" fill="#808080"/><circle cx="658.1" cy="248.0" r="3.4" fill="#808080"/><circle cx="658.0" cy="250.0" r="3.4" fill="#808080"/><circle cx="657.9" cy="252.0" r="3.4" fill="#808080"/><circle cx="657.8" cy="254.0" r="3.4" fill="#808080"/><circle cx="657.7" cy="256.0" r="3.4" fill="#808080"/><circle cx="658.8" cy="263.0" r="3.4" fill="#808080"/><circle cx="658.9" cy="265.2" r="3.4" fill="#808080"/><circle cx="658.5" cy="267.3" r="3.4" fill="#808080"/><circle cx="658.8" cy="269.5" r="3.4" fill="#808080"/><circle cx="658.1" cy="271.6" r="3.4" fill="#808080"/><circle cx="658.0" cy="273.8" r="3.4" fill="#808080"/><circle cx="658.2" cy="275.9" r="3.4" fill="#808080"/><circle cx="659.1" cy="278.1" r="3.4" fill="#808080"/><circle cx="657.6" cy="280.2" r="3.4" fill="#808080"/><circle cx="658.4" cy="282.4" r="3.4" fill="#808080"/><circle cx="657.9" cy="284.6" r="3.4" fill="#808080"/><circle cx="658.9" cy="286.7" r="3.4" fill="#808080"/><circle cx="658.1" cy="288.9" r="3.4" fill="#808080"/><circle cx="658.1" cy="291.0" r="3.4" fill="#808080"/><circle cx="658.2" cy="293.2" r="3.4" fill="#808080"/><circle cx="658.5" cy="295.3" r="3.4" fill="#808080"/><circle cx="658.9" cy="297.5" r="3.4" fill="#808080"/><circle cx="661.0" cy="266.0" r="3.4" fill="#808080"/><circle cx="661.6" cy="269.0" r="3.4" fill="#808080"/><circle cx="660.7" cy="272.0" r="3.4" fill="#808080"/><circle cx="660.9" cy="275.0" r="3.4" fill="#808080"/><circle cx="660.7" cy="278.0" r="3.4" fill="#808080"/><circle cx="660.7" cy="281.0" r="3.4" fill="#808080"/><circle cx="661.5" cy="284.0" r="3.4" fill="#808080"/><circle cx="661.5" cy="287.0" r="3.4" fill="#808080"/><circle cx="660.8" cy="290.0" r="3.4" fill="#808080"/><circle cx="660.8" cy="293.0" r="3.4" fill="#808080"/><circle cx="661.1" cy="296.0" r="3.4" fill="#808080"/></g>
<circle cx="344.7" cy="121.1" r="3.1" fill="#3cb41e" stroke="#a8761c" stroke-width="0.8"/>
<text transform="translate(351.2,118.3) rotate(-90)" style="font-size:14px">rs5326</text>
<g class="ax">
<path d="M46.5 5.5H683.5V307.2H46.5" fill="none" stroke="#333" stroke-width="1.1"/>
<line x1="47" y1="5.5" x2="47" y2="307.2" style="stroke:#3a3a3a;stroke-width:1.1"/>
<line x1="40" y1="298.4" x2="47" y2="298.4"/><line x1="40" y1="269.1" x2="47" y2="269.1"/><line x1="40" y1="239.8" x2="47" y2="239.8"/><line x1="40" y1="210.5" x2="47" y2="210.5"/><line x1="40" y1="181.2" x2="47" y2="181.2"/><line x1="40" y1="151.9" x2="47" y2="151.9"/><line x1="40" y1="122.7" x2="47" y2="122.7"/><line x1="40" y1="93.4" x2="47" y2="93.4"/><line x1="40" y1="64.1" x2="47" y2="64.1"/><line x1="40" y1="34.8" x2="47" y2="34.8"/><line x1="40" y1="5.5" x2="47" y2="5.5"/><line x1="65.1" y1="307.2" x2="65.1" y2="314.7"/><line x1="152.3" y1="307.2" x2="152.3" y2="314.7"/><line x1="207.4" y1="307.2" x2="207.4" y2="314.7"/><line x1="253.3" y1="307.2" x2="253.3" y2="314.7"/><line x1="273.3" y1="307.2" x2="273.3" y2="314.7"/><line x1="344.7" y1="307.2" x2="344.7" y2="314.7"/><line x1="404.5" y1="307.2" x2="404.5" y2="314.7"/><line x1="458.4" y1="307.2" x2="458.4" y2="314.7"/><line x1="467.5" y1="307.2" x2="467.5" y2="314.7"/><line x1="482.3" y1="307.2" x2="482.3" y2="314.7"/><line x1="513.7" y1="307.2" x2="513.7" y2="314.7"/><line x1="565.2" y1="307.2" x2="565.2" y2="314.7"/><line x1="604.1" y1="307.2" x2="604.1" y2="314.7"/><line x1="628.5" y1="307.2" x2="628.5" y2="314.7"/><line x1="630.7" y1="307.2" x2="630.7" y2="314.7"/><line x1="647.4" y1="307.2" x2="647.4" y2="314.7"/><line x1="657.7" y1="307.2" x2="657.7" y2="314.7"/><line x1="665.3" y1="307.2" x2="665.3" y2="314.7"/>
</g>
<text x="34.3" y="303.2" text-anchor="end">0</text><text x="34.3" y="244.6" text-anchor="end">1</text><text x="34.3" y="186.0" text-anchor="end">2</text><text x="34.3" y="127.5" text-anchor="end">3</text><text x="34.3" y="68.9" text-anchor="end">4</text><text x="34.3" y="10.3" text-anchor="end">5</text><text x="65.1" y="330" text-anchor="middle">1</text><text x="152.2" y="330" text-anchor="middle">2</text><text x="207.3" y="330" text-anchor="middle">3</text><text x="253.0" y="330" text-anchor="middle">4</text><text x="273.2" y="330" text-anchor="middle">5</text><text x="344.7" y="330" text-anchor="middle">6</text><text x="404.4" y="330" text-anchor="middle">7</text><text x="458.3" y="330" text-anchor="middle">8</text><text x="482.5" y="330" text-anchor="middle">10</text><text x="513.4" y="330" text-anchor="middle">11</text><text x="565.4" y="330" text-anchor="middle">12</text><text x="604.6" y="330" text-anchor="middle">13</text><text x="629.1" y="330" text-anchor="middle">14</text>
<text x="364.8" y="353" text-anchor="middle">Chromosome</text>
<g transform="translate(10.6,179.6) rotate(-90)"><rect x="0.1" y="-3.6" width="7.1" height="1" fill="#222"/><text x="7.6" y="0">log</text><text x="23.3" y="2.4" style="font-size:8px">10</text><path d="M36.2,-8 Q29.6,-2.6 36.2,2.8 M45.4,-8 Q52,-2.6 45.4,2.8" fill="none" stroke="#222" stroke-width="1.45"/><text x="37.3" y="0" style="font-style:italic">p</text></g>
</svg></body></html>
